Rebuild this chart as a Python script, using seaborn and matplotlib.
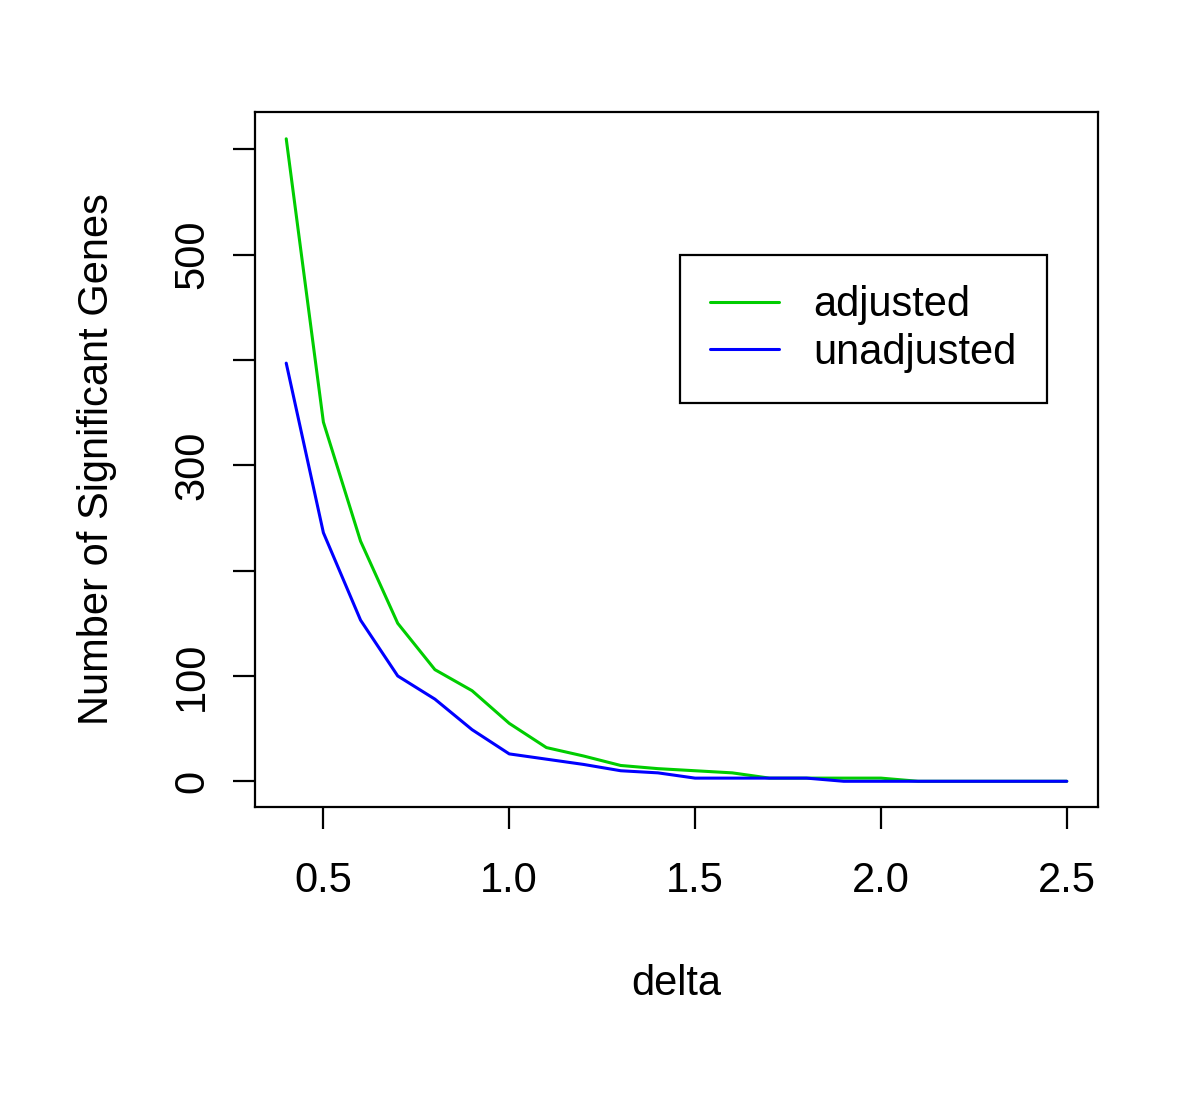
import seaborn as sns
import pandas as pd
import matplotlib.pyplot as plt
import numpy as np

delta = [0.4, 0.5, 0.6, 0.7, 0.8, 0.9, 1.0, 1.1, 1.2, 1.3, 1.4,
         1.5, 1.6, 1.7, 1.8, 1.9, 2.0, 2.1, 2.2, 2.3, 2.4, 2.5]
adjusted = [610, 341, 228, 150, 106, 86, 55, 32, 24, 15, 12,
            10, 8, 3, 3, 3, 3, 0, 0, 0, 0, 0]
unadjusted = [397, 236, 153, 100, 78, 49, 26, 21, 16, 10, 8,
              3, 3, 3, 3, 0, 0, 0, 0, 0, 0, 0]

df = pd.DataFrame({"delta": delta * 2,
                   "n": adjusted + unadjusted,
                   "type": ["adjusted"] * len(delta) + ["unadjusted"] * len(delta)})

sns.set_style("ticks")
plt.rcParams['font.family'] = ['Liberation Sans', 'DejaVu Sans']
plt.rcParams.update({"text.color": "black", "axes.labelcolor": "black",
                     "xtick.color": "black", "ytick.color": "black"})

fig = plt.figure(figsize=(12, 11.05), dpi=100)
ax = fig.add_axes([0.2125, 0.2697, 0.7025, 0.6289])

sns.lineplot(data=df, x="delta", y="n", hue="type",
             hue_order=["adjusted", "unadjusted"],
             palette=["#00CD00", "#0000FF"], linewidth=2.2, ax=ax)

ax.set_xlim(0.316, 2.584)
ax.set_ylim(-24.4, 635.4)

fs = 30
ax.set_xticks([0.5, 1.0, 1.5, 2.0, 2.5])
ax.set_xticklabels(["0.5", "1.0", "1.5", "2.0", "2.5"], fontsize=fs)
ax.set_yticks([0, 100, 200, 300, 400, 500, 600])
ax.set_yticklabels(["0", "100", "", "300", "", "500", ""], fontsize=fs,
                   rotation=90, va="center")
ax.tick_params(axis="x", length=16, width=1.6, pad=23, direction="out")
ax.tick_params(axis="y", length=16, width=1.6, pad=15, direction="out")

for s in ax.spines.values():
    s.set_linewidth(1.6)
    s.set_color("black")

ax.set_xlabel("delta", fontsize=fs, va="center")
ax.set_ylabel("Number of Significant Genes", fontsize=fs, va="center")
ax.xaxis.set_label_coords(0.5, -0.255)
ax.yaxis.set_label_coords(-0.188, 0.5)

leg = ax.legend(loc="upper right", bbox_to_anchor=(0.9395, 0.794),
                borderaxespad=0, fontsize=fs, frameon=True, fancybox=False,
                edgecolor="black", framealpha=1, handlelength=1.66,
                handletextpad=0.84, borderpad=0.72, labelspacing=0.18)
leg.get_frame().set_linewidth(1.6)

fig.savefig("out.png", dpi=100)
